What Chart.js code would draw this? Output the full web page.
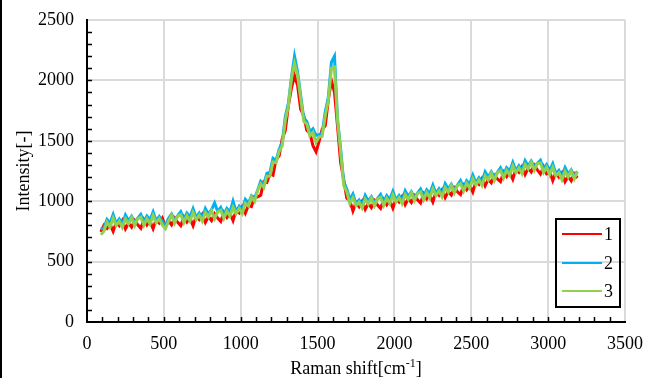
<!DOCTYPE html>
<html>
<head>
<meta charset="utf-8">
<script src="https://cdn.jsdelivr.net/npm/chart.js@4"></script>
<style>
  html, body { margin: 0; padding: 0; background: #fff; }
  #wrap { width: 656px; height: 378px; position: relative; }
</style>
</head>
<body>
<div id="wrap"><canvas id="ramanChart" width="656" height="378"></canvas></div>
<script>
// Raman shift [cm-1]
const shifts = [90,110,130,150,170,190,210,230,250,270,290,310,330,350,370,390,410,430,450,470,490,510,530,550,570,590,610,630,650,670,690,710,730,750,770,790,810,830,850,870,890,910,930,950,970,990,1010,1030,1050,1070,1090,1110,1130,1150,1170,1190,1210,1230,1250,1270,1290,1310,1330,1350,1370,1390,1410,1430,1450,1470,1490,1510,1530,1550,1570,1590,1610,1630,1650,1670,1690,1710,1730,1750,1770,1790,1810,1830,1850,1870,1890,1910,1930,1950,1970,1990,2010,2030,2050,2070,2090,2110,2130,2150,2170,2190,2210,2230,2250,2270,2290,2310,2330,2350,2370,2390,2410,2430,2450,2470,2490,2510,2530,2550,2570,2590,2610,2630,2650,2670,2690,2710,2730,2750,2770,2790,2810,2830,2850,2870,2890,2910,2930,2950,2970,2990,3010,3030,3050,3070,3090,3110,3130,3150,3170,3190];

// intensity of each spectrum
const spectrum1 = [745,800,775,810,750,825,797,840,771,818,785,840,804,
  776,848,803,835,772,848,819,860,791,838,805,860,825,
  798,870,827,860,798,875,848,891,824,872,840,896,860,
  833,906,865,900,840,923,903,955,900,965,955,1038,1035,
  1050,1160,1155,1230,1215,1345,1375,1515,1585,1790,1935,2040,1960,
  1760,1710,1585,1565,1460,1410,1495,1595,1625,1840,2000,1900,1620,
  1320,1180,1025,1005,920,990,955,1000,933,980,947,1003,968,
  940,1013,971,1005,942,1020,993,1037,971,1020,989,1046,1012,
  986,1060,1019,1053,993,1073,1048,1093,1029,1080,1051,1110,1078,
  1055,1132,1095,1133,1076,1160,1139,1188,1127,1180,1153,1214,1184,
  1162,1240,1203,1240,1182,1263,1239,1285,1221,1272,1242,1298,1260,
  1225,1285,1227,1245,1170,1237,1200,1235,1162,1205,1170,1226,1192];

const spectrum2 = [770,780,850,820,890,815,852,810,886,838,875,824,859,
  891,828,878,845,912,838,874,830,795,858,895,844,880,
  913,850,902,870,938,865,903,861,939,892,930,985,915,
  948,886,940,910,1000,913,958,925,1015,985,1045,1022,1090,
  1165,1140,1230,1240,1355,1335,1430,1485,1700,1810,2025,2200,2070,
  1875,1690,1660,1575,1600,1545,1550,1565,1740,1860,2150,2200,1675,
  1435,1160,1100,1015,1060,980,1010,970,1048,1000,1037,987,1023,
  1055,993,1046,1015,1082,1010,1048,1007,1086,1040,1079,1030,1067,
  1101,1040,1094,1063,1133,1063,1103,1063,1144,1100,1141,1094,1133,
  1170,1112,1170,1143,1216,1150,1194,1158,1242,1200,1243,1198,1239,
  1277,1220,1278,1250,1322,1253,1294,1255,1336,1292,1332,1282,1315,
  1340,1265,1302,1255,1310,1227,1255,1205,1277,1225,1260,1210,1247];

const spectrum3 = [722,752,828,785,860,798,834,783,854,813,865,799,856,
  868,800,856,810,882,821,856,803,772,833,885,819,877,
  890,822,880,835,908,848,885,834,907,867,920,855,912,
  925,858,918,875,950,896,940,898,983,960,1035,997,1087,
  1142,1112,1208,1205,1325,1318,1412,1458,1668,1785,2015,2140,2042,
  1852,1662,1638,1540,1570,1488,1532,1538,1708,1835,2100,2110,1672,
  1412,1132,1078,980,1030,963,992,943,1016,975,1027,962,1020,
  1032,965,1024,980,1052,993,1030,980,1054,1015,1069,1005,1064,
  1078,1012,1072,1028,1103,1046,1085,1036,1112,1075,1131,1069,1130,
  1147,1084,1148,1108,1186,1133,1176,1131,1210,1175,1233,1173,1236,
  1254,1192,1256,1215,1292,1236,1276,1228,1304,1267,1322,1257,1312,
  1317,1237,1280,1220,1280,1210,1237,1178,1245,1200,1250,1185,1244];

const seriesNames = ['1', '2', '3'];
const seriesColors = ['#ff0000', '#00b0f0', '#92d050'];

const FONT = "'Liberation Serif', 'Times New Roman', serif";

function toPoints(ys) {
  return shifts.map((x, i) => ({ x: x, y: ys[i] }));
}

// minor ticks, axis titles, legend box, left frame edge
const extras = {
  id: 'extras',
  afterDraw(chart) {
    const c = chart.ctx;
    const xs = chart.scales.x, ys = chart.scales.y;
    const area = chart.chartArea;
    c.save();
    c.strokeStyle = '#000';
    c.lineWidth = 1.5;
    c.beginPath();
    for (let v = 100; v < 3500; v += 100) {
      const px = Math.round(xs.getPixelForValue(v)) + 0.5;
      c.moveTo(px, area.bottom);
      c.lineTo(px, area.bottom - 5);
    }
    for (let v = 100; v < 2500; v += 100) {
      const py = Math.round(ys.getPixelForValue(v)) + 0.5;
      c.moveTo(area.left, py);
      c.lineTo(area.left + 5, py);
    }
    c.stroke();

    // x title with superscript
    c.fillStyle = '#000';
    c.textBaseline = 'alphabetic';
    const big = '18px ' + FONT, small = '12px ' + FONT;
    const a = 'Raman shift[cm', b = ']';
    c.font = big; const wa = c.measureText(a).width, wb = c.measureText(b).width;
    c.font = small; const ws = c.measureText('-1').width;
    let x0 = (area.left + area.right) / 2 - (wa + ws + wb) / 2;
    const base = 374;
    c.font = big; c.fillText(a, x0, base);
    c.font = small; c.fillText('-1', x0 + wa, base - 7);
    c.font = big; c.fillText(b, x0 + wa + ws, base);

    // y title
    c.save();
    c.translate(24, (area.top + area.bottom) / 2);
    c.rotate(-Math.PI / 2);
    c.font = big;
    c.textAlign = 'center';
    c.textBaseline = 'middle';
    c.fillText('Intensity[-]', 0, 0);
    c.restore();

    // legend
    c.lineWidth = 2;
    c.strokeStyle = '#000';
    c.strokeRect(556, 219, 64, 88);
    const rows = [234, 263, 291];
    chart.data.datasets.forEach((ds, i) => {
      c.strokeStyle = ds.borderColor;
      c.lineWidth = 2;
      c.beginPath();
      c.moveTo(562, rows[i]);
      c.lineTo(602, rows[i]);
      c.stroke();
      c.fillStyle = '#000';
      c.font = big;
      c.textAlign = 'left';
      c.textBaseline = 'middle';
      c.fillText(ds.label, 604, rows[i] + 1);
    });

    // left frame edge
    c.fillStyle = '#000';
    c.fillRect(0, 0, 2, 378);
    c.restore();
  }
};

new Chart(document.getElementById('ramanChart').getContext('2d'), {
  type: 'line',
  data: {
    datasets: [
      { label: seriesNames[0], data: toPoints(spectrum1), borderColor: seriesColors[0], order: 3 },
      { label: seriesNames[1], data: toPoints(spectrum2), borderColor: seriesColors[1], order: 2 },
      { label: seriesNames[2], data: toPoints(spectrum3), borderColor: seriesColors[2], order: 1 }
    ]
  },
  options: {
    responsive: false,
    animation: false,
    layout: { padding: { left: 0, right: 31, top: 20, bottom: 0 } },
    elements: {
      point: { radius: 0 },
      line: { borderWidth: 3, tension: 0 }
    },
    plugins: {
      legend: { display: false },
      tooltip: { enabled: false }
    },
    scales: {
      x: {
        type: 'linear',
        min: 0, max: 3500,
        afterFit: s => { s.height = 56; s.paddingLeft = 0; s.paddingRight = 0; },
        ticks: { stepSize: 500, color: '#000', padding: 11, font: { family: FONT, size: 18 }, maxRotation: 0,
                 callback: v => String(v) },
        grid: { color: '#dadada', lineWidth: 2, drawTicks: false },
        border: { color: '#000', width: 2 }
      },
      y: {
        min: 0, max: 2500,
        afterFit: s => { s.width = 87; s.paddingTop = 0; s.paddingBottom = 0; },
        ticks: { stepSize: 500, color: '#000', padding: 13, font: { family: FONT, size: 18 },
                 callback: v => String(v) },
        grid: { color: '#dadada', lineWidth: 2, drawTicks: false },
        border: { color: '#000', width: 2 }
      }
    }
  },
  plugins: [extras]
});
</script>
</body>
</html>
